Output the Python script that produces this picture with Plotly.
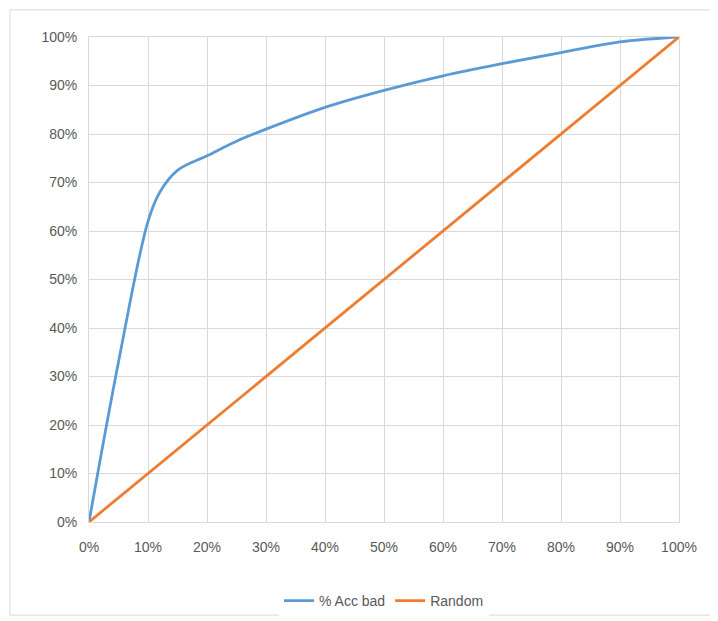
import plotly.graph_objects as go

# share of population (x) vs cumulative share of bad accounts (y)
pct_pob = [0, 0.05, 0.10, 0.12, 0.15, 0.20, 0.25, 0.30, 0.40, 0.50, 0.60, 0.70, 0.80, 0.90, 1.00]
pct_acc_bad = [0, 0.33, 0.62, 0.68, 0.725, 0.755, 0.785, 0.81, 0.855, 0.89, 0.92, 0.945, 0.968, 0.99, 1.00]
random_x = [0, 1]
random_y = [0, 1]

fig = go.Figure()
fig.add_trace(go.Scatter(x=pct_pob, y=pct_acc_bad, name="% Acc bad", mode="lines",
                         line=dict(color="#5B9BD5", width=2.8, shape="spline", smoothing=1.0)))
fig.add_trace(go.Scatter(x=random_x, y=random_y, name="Random", mode="lines",
                         line=dict(color="#ED7D31", width=2.8)))

ejes = dict(range=[0, 1], dtick=0.1, tickformat=".0%", showgrid=True, gridcolor="#D9D9D9",
            zeroline=False, showline=True, linecolor="#D9D9D9", mirror=True,
            ticks="outside", tickcolor="rgba(0,0,0,0)",
            tickfont=dict(size=14, color="#595959"), fixedrange=True)

fig.update_layout(
    width=718, height=621,
    margin=dict(l=81, r=47, t=29, b=107),
    paper_bgcolor="white", plot_bgcolor="white",
    font=dict(family="Liberation Sans, Arial", color="#595959"),
    xaxis=dict(ejes, ticklen=12),
    yaxis=dict(ejes, ticklen=8),
    showlegend=True,
    legend=dict(orientation="h", x=0.5, xanchor="center", y=-0.13, yanchor="top",
                font=dict(size=14, color="#595959")),
    shapes=[dict(type="rect", xref="paper", yref="paper", x0=-0.134, x1=1.058, y0=-0.192, y1=1.056,
                 line=dict(color="#D9D9D9", width=1))],
)

fig.write_html("out.html")
